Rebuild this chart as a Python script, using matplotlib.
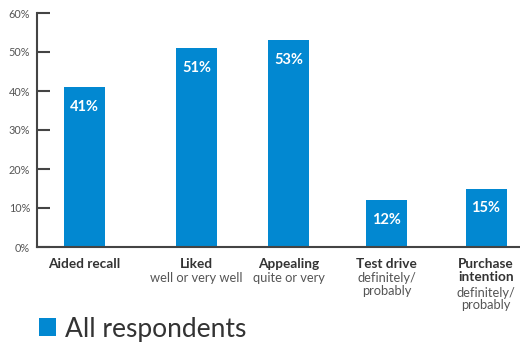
import matplotlib.pyplot as plt
import numpy as np

plt.rcParams['font.family'] = ['Lato', 'DejaVu Sans']

# data
categories = ['Aided recall', 'Liked', 'Appealing', 'Test drive', 'Purchase\nintention']
subtitles = ['', 'well or very well', 'quite or very', 'definitely/\nprobably', 'definitely/\nprobably']
values = [41, 51, 53, 12, 15]
series_name = 'All respondents'

# layout (bar centres in pixel offsets from the y axis)
xpos = [47.5, 159.5, 251.5, 349.5, 449]
bar_w = 41
blue = '#0288d1'
dark = '#333333'

fig = plt.figure(figsize=(5.2, 3.43), dpi=100)
ax = fig.add_axes([37 / 520, 1 - 247 / 343, 1 - 37 / 520, 234 / 343])

bars = ax.bar(xpos, values, width=bar_w, color=blue, label=series_name)
ax.set_xlim(0, 483)
ax.set_ylim(0, 60)

for x, v in zip(xpos, values):
    ax.annotate(f'{v}%', (x, v), xytext=(0, -9), textcoords='offset points',
                ha='center', va='top', color='white', fontsize=10.5, fontweight='bold')

for x, c, s in zip(xpos, categories, subtitles):
    ax.annotate(c, (x, 0), xytext=(0, -8), textcoords='offset points',
                ha='center', va='top', color=dark, fontsize=9.8, fontweight='bold',
                linespacing=1.05)
    nl = c.count('\n') + 1
    if s:
        ax.annotate(s, (x, 0), xytext=(0, -8 - 10.3 * nl), textcoords='offset points',
                    ha='center', va='top', color='#555555', fontsize=9.3,
                    linespacing=1.05)

ax.set_yticks(np.arange(0, 61, 10))
ax.set_yticklabels([f'{t}%' for t in range(0, 61, 10)], color='#555555', fontsize=7.8)
ax.set_xticks([])
ax.tick_params(axis='y', direction='in', length=9.5, width=1.5, color='#444444', pad=5)
for s in ['top', 'right']:
    ax.spines[s].set_visible(False)
for s in ['left', 'bottom']:
    ax.spines[s].set_color('#444444')
    ax.spines[s].set_linewidth(1.5)

fig.legend(handles=[bars], labels=[series_name], loc='upper left',
           bbox_to_anchor=(28 / 520, 1 - 306 / 343), frameon=False,
           fontsize=19, handlelength=0.65, handleheight=0.65, handletextpad=0.35,
           labelcolor=dark, borderaxespad=0)

fig.savefig('out.png', dpi=100)
